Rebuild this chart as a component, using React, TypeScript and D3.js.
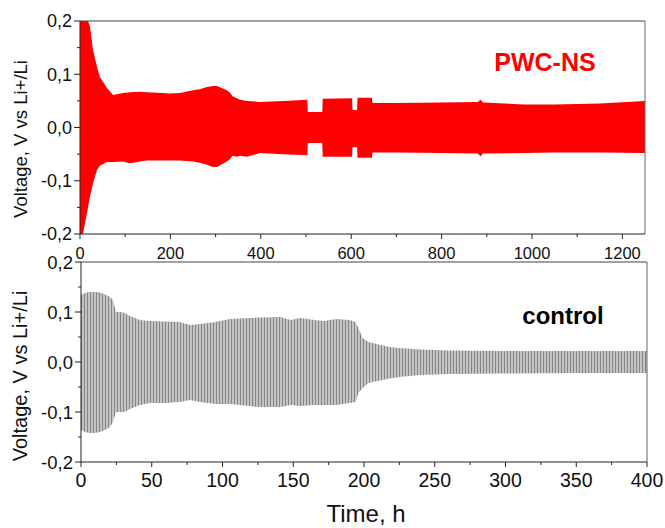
import React from "react";
import * as d3 from "d3";

// ---------- data: PWC-NS (top panel), envelope of voltage oscillation ----------
const pwcTime = [0, 6.6, 17.7, 22, 28.7, 37.6, 44, 59.7, 73, 95, 110, 133, 148, 183, 199, 221, 250, 265, 281, 294, 303, 325, 331, 338, 347, 354, 369, 398, 450, 503, 504, 536, 537, 602, 603, 613, 614, 646, 647, 700, 800, 880, 886, 892, 983, 1050, 1150, 1250];
const pwcUpper = [0.3, 0.3, 0.2, 0.19, 0.146, 0.114, 0.095, 0.074, 0.061, 0.065, 0.066, 0.067, 0.066, 0.065, 0.064, 0.065, 0.07, 0.072, 0.076, 0.078, 0.078, 0.07, 0.066, 0.058, 0.055, 0.052, 0.05, 0.048, 0.05, 0.052, 0.029, 0.029, 0.054, 0.055, 0.033, 0.033, 0.056, 0.056, 0.046, 0.046, 0.047, 0.048, 0.052, 0.047, 0.043, 0.043, 0.045, 0.05];
const pwcLower = [-0.3, -0.2, -0.15, -0.13, -0.105, -0.08, -0.072, -0.065, -0.065, -0.064, -0.067, -0.064, -0.062, -0.062, -0.062, -0.062, -0.064, -0.066, -0.07, -0.074, -0.074, -0.064, -0.06, -0.053, -0.055, -0.053, -0.055, -0.048, -0.05, -0.052, -0.029, -0.029, -0.055, -0.055, -0.037, -0.037, -0.057, -0.057, -0.047, -0.047, -0.048, -0.049, -0.054, -0.049, -0.048, -0.047, -0.047, -0.048];

// ---------- data: control (bottom panel) ----------
const ctrlTime = [0, 2.8, 6, 10, 13.4, 17, 20.5, 22.6, 24.7, 27.6, 31, 34.6, 41.7, 48.8, 60, 70, 77, 84, 95, 105, 119, 126, 141, 148, 155, 165, 172, 180, 190, 194, 196, 199, 203, 218, 225, 240, 260, 300, 350, 400];
const ctrlUpper = [0.134, 0.138, 0.14, 0.14, 0.139, 0.135, 0.13, 0.124, 0.1, 0.1, 0.098, 0.092, 0.084, 0.082, 0.081, 0.08, 0.074, 0.076, 0.08, 0.086, 0.088, 0.089, 0.09, 0.084, 0.088, 0.084, 0.082, 0.086, 0.084, 0.08, 0.068, 0.048, 0.04, 0.03, 0.028, 0.025, 0.023, 0.022, 0.022, 0.022];
const ctrlLower = [-0.136, -0.14, -0.142, -0.142, -0.14, -0.136, -0.13, -0.12, -0.1, -0.1, -0.1, -0.094, -0.086, -0.082, -0.082, -0.08, -0.076, -0.08, -0.084, -0.084, -0.088, -0.09, -0.09, -0.086, -0.088, -0.086, -0.086, -0.086, -0.082, -0.08, -0.062, -0.052, -0.042, -0.033, -0.03, -0.026, -0.024, -0.023, -0.022, -0.022];

// ---------- ticks ----------
const topXTicks = [0, 200, 400, 600, 800, 1000, 1200];
const topXMinor = [100, 300, 500, 700, 900, 1100];
const yTicks = [-0.2, -0.1, 0, 0.1, 0.2];
const yMinor = [-0.15, -0.05, 0.05, 0.15];
const botXTicks = [0, 50, 100, 150, 200, 250, 300, 350, 400];
const botXMinor = [25, 75, 125, 175, 225, 275, 325, 375];

const FONT = "Arial, 'Liberation Sans', sans-serif";
const fmtY = (v: number) => v.toFixed(1).replace(".", ",");

type PanelProps = {
  x0: number; x1: number; yTop: number; yBot: number;
  xMax: number; xTicks: number[]; xMinor: number[];
  time: number[]; upper: number[]; lower: number[];
  fill: string; id: string;
  xFont: number; xBase: number; yFont: number;
};

function Panel(p: PanelProps) {
  const x = d3.scaleLinear().domain([0, p.xMax]).range([p.x0, p.x1]);
  const y = d3.scaleLinear().domain([-0.2, 0.2]).range([p.yBot, p.yTop]);
  const data = p.time.map((t, i) => ({ t, u: p.upper[i], l: p.lower[i] }));
  const area = d3.area<{ t: number; u: number; l: number }>()
    .x((d) => x(d.t)).y0((d) => y(d.l)).y1((d) => y(d.u));
  const ax = "#222";
  return (
    <g>
      <defs>
        <clipPath id={`clip-${p.id}`}>
          <rect x={p.x0} y={p.yTop} width={p.x1 - p.x0} height={p.yBot - p.yTop} />
        </clipPath>
      </defs>
      <path d={area(data) || ""} fill={p.fill} clipPath={`url(#clip-${p.id})`} />
      {/* frame */}
      <line x1={p.x0} x2={p.x1} y1={p.yTop} y2={p.yTop} stroke="#444" strokeWidth={1} />
      <line x1={p.x1} x2={p.x1} y1={p.yTop} y2={p.yBot} stroke="#666" strokeWidth={1} />
      <line x1={p.x0} x2={p.x0} y1={p.yTop} y2={p.yBot} stroke={ax} strokeWidth={1} />
      <line x1={p.x0} x2={p.x1} y1={p.yBot} y2={p.yBot} stroke={ax} strokeWidth={1} />
      {p.xTicks.map((t) => (
        <g key={`xt${t}`}>
          <line x1={x(t)} x2={x(t)} y1={p.yBot} y2={p.yBot + 5} stroke={ax} />
          <text x={x(t)} y={p.xBase} textAnchor="middle" fontSize={p.xFont} fontFamily={FONT} fill="#111">{t}</text>
        </g>
      ))}
      {p.xMinor.map((t) => (
        <line key={`xm${t}`} x1={x(t)} x2={x(t)} y1={p.yBot} y2={p.yBot + 3} stroke={ax} />
      ))}
      {yTicks.map((v) => (
        <g key={`yt${v}`}>
          <line x1={p.x0 - 6} x2={p.x0} y1={y(v)} y2={y(v)} stroke={ax} />
          <text x={p.x0 - 8} y={y(v)} dy="0.36em" textAnchor="end" fontSize={p.yFont} fontFamily={FONT} fill="#111">{fmtY(v)}</text>
        </g>
      ))}
      {yMinor.map((v) => (
        <line key={`ym${v}`} x1={p.x0 - 3} x2={p.x0} y1={y(v)} y2={y(v)} stroke={ax} />
      ))}
    </g>
  );
}

export default function App() {
  return (
    <svg width={665} height={528} style={{ position: "absolute", left: 0, top: 0, background: "#fff" }}>
      <defs>
        <pattern id="stripes" width={3} height={10} patternUnits="userSpaceOnUse">
          <rect x={0} y={0} width={3} height={10} fill="#c4c4c4" />
          <rect x={0} y={0} width={1} height={10} fill="#858585" />
        </pattern>
      </defs>
      <rect x={0} y={0} width={665} height={528} fill="#fff" />
      <Panel id="top" x0={80} x1={645} yTop={21} yBot={234} xMax={1250}
        xTicks={topXTicks} xMinor={topXMinor}
        time={pwcTime} upper={pwcUpper} lower={pwcLower}
        fill="#ff0000" xFont={16.5} xBase={259} yFont={18} />
      <Panel id="bot" x0={81} x1={647} yTop={262} yBot={462} xMax={400}
        xTicks={botXTicks} xMinor={botXMinor}
        time={ctrlTime} upper={ctrlUpper} lower={ctrlLower}
        fill="url(#stripes)" xFont={19.5} xBase={487} yFont={18.5} />
      <text x={545} y={71} textAnchor="middle" fontSize={25} fontWeight="bold" fontFamily={FONT} fill="#ff0000">PWC-NS</text>
      <text x={563} y={324} textAnchor="middle" fontSize={24} fontWeight="bold" fontFamily={FONT} fill="#000">control</text>
      <text x={366} y={522} textAnchor="middle" fontSize={24} fontFamily={FONT} fill="#111">Time, h</text>
      <text transform="translate(27,139) rotate(-90)" textAnchor="middle" fontSize={18.5} fontFamily={FONT} fill="#111">Voltage, V vs Li+/Li</text>
      <text transform="translate(27,376) rotate(-90)" textAnchor="middle" fontSize={20} fontFamily={FONT} fill="#111">Voltage, V vs Li+/Li</text>
    </svg>
  );
}
